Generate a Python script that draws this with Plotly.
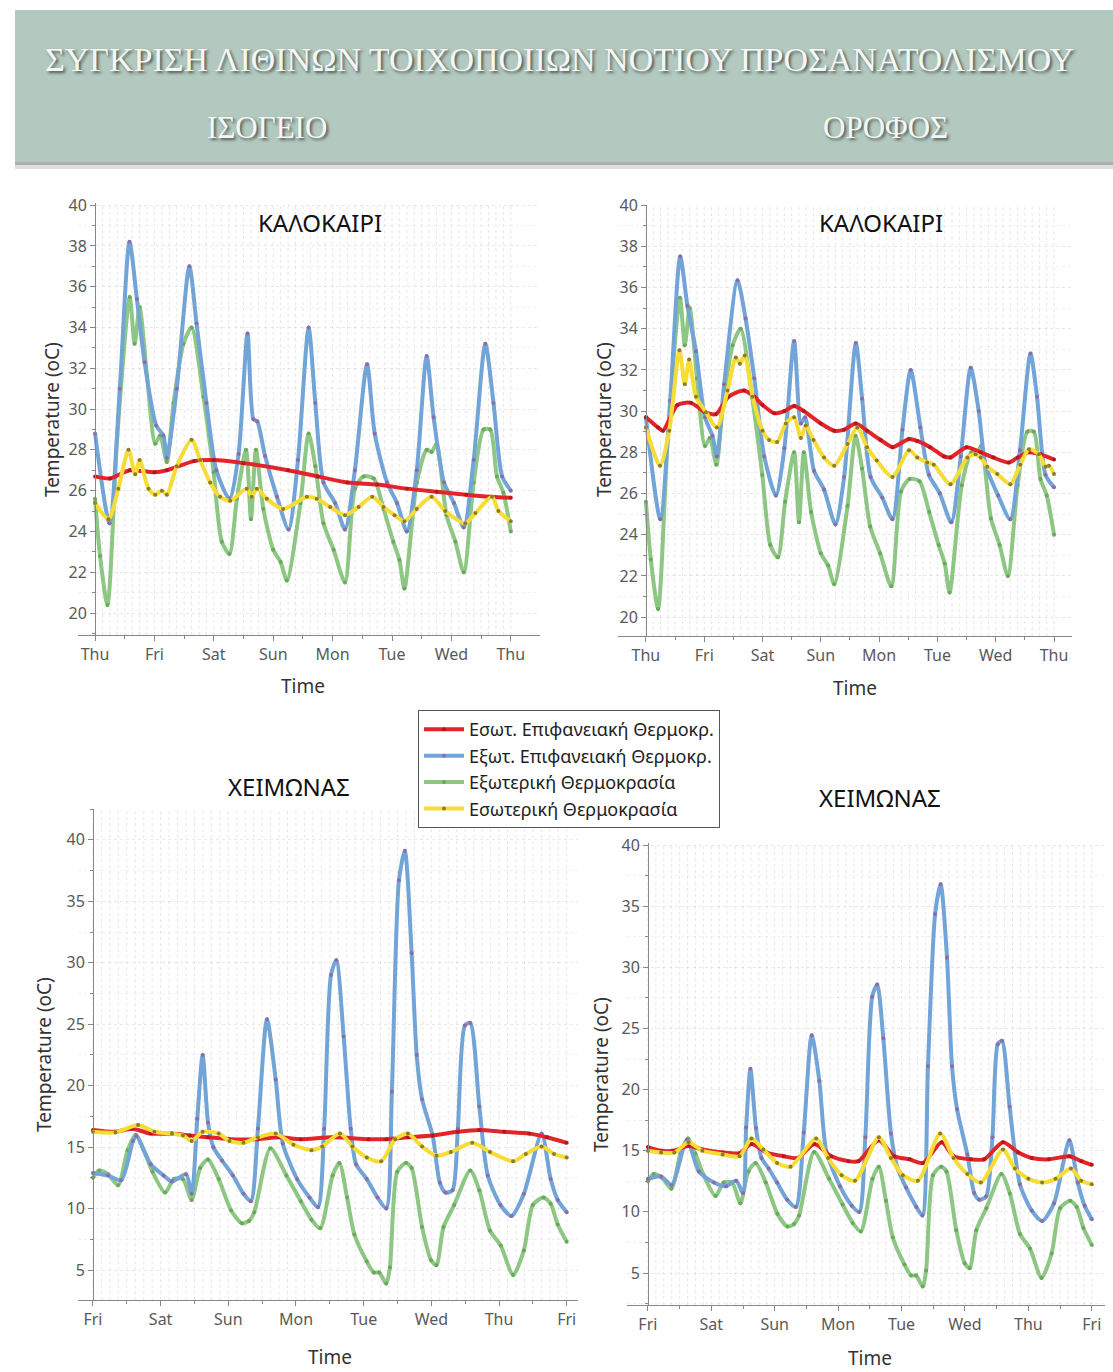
import plotly.graph_objects as go

W, H = 1113, 1372

DAYS_SUMMER = ["Thu", "Fri", "Sat", "Sun", "Mon", "Tue", "Wed", "Thu"]
DAYS_WINTER = ["Fri", "Sat", "Sun", "Mon", "Tue", "Wed", "Thu", "Fri"]
DAY_HOURS = [0, 24, 48, 72, 96, 120, 144, 168]

NAMES = ["Εσωτ. Επιφανειακή Θερμοκρ.", "Εξωτ. Επιφανειακή Θερμοκρ.",
         "Εξωτερική Θερμοκρασία", "Εσωτερική Θερμοκρασία"]

# ---------------- SUMMER ----------------
# outdoor air temperature (same for both floors)
S_OUT_T = [0, 2, 5, 9, 14, 16, 18, 21, 24.3, 26.3, 29, 31.7, 35.7, 39, 43.8, 47.9, 51.2, 54.3, 57.3, 61,
           63, 65, 68, 72, 75, 77.5, 83, 86.3, 89, 92.3, 96.4, 101, 105, 108.5, 112.6, 116.6, 120.5, 123, 125, 130,
           134, 136, 138, 142, 145.6, 149, 153, 157, 159.7, 162.4, 165, 168]
S_OUT_V = [25.6, 22.8, 20.4, 28.7, 35.5, 33.2, 35.0, 31.6, 28.3, 28.7, 27.4, 30.3, 33.2, 34.0, 30.6, 26.9, 23.5, 22.9, 25.6, 28.0,
           24.6, 28.0, 25.1, 23.1, 22.5, 21.6, 25.4, 28.8, 27.2, 24.4, 23.1, 21.5, 26.1, 26.7, 26.6, 25.1, 23.5, 22.6, 21.2, 26.4,
           28.0, 27.9, 28.3, 24.8, 23.5, 22.0, 26.4, 29.0, 29.0, 26.7, 25.9, 24.0]

# ground floor
S_GF_EXTSURF_T = [0, 5.8, 10, 13.9, 16.9, 20, 24.7, 27.6, 29, 33, 38.1, 41, 45, 49, 54.3, 58, 61.6, 64, 65.5, 68.7,
                  73.5, 78.2, 82, 86.3, 89, 92.3, 97, 101, 105, 109.9, 113, 118, 122, 126, 130, 134, 136.8, 141, 145, 149,
                  153, 157.7, 161, 164.5, 168]
S_GF_EXTSURF_V = [28.8, 24.4, 31.0, 38.2, 35.4, 32.3, 29.2, 28.7, 27.6, 31.0, 37.0, 34.2, 30.3, 27.0, 25.6, 27.8, 33.7, 29.5, 29.4, 27.7,
                  25.7, 24.1, 27.5, 34.0, 30.3, 26.4, 25.4, 24.1, 27.0, 32.2, 28.8, 26.4, 25.4, 24.0, 27.0, 32.6, 29.6, 26.4, 25.4, 24.2,
                  27.5, 33.2, 30.3, 26.7, 26.0]
S_GF_INTSURF_T = [0, 6, 14, 24, 29, 40, 48, 60, 78, 90, 102, 114, 126, 138, 150, 160, 168]
S_GF_INTSURF_V = [26.7, 26.6, 27.0, 26.9, 27.0, 27.45, 27.5, 27.35, 27.0, 26.7, 26.4, 26.3, 26.1, 25.95, 25.8, 25.7, 25.65]
S_GF_IN_T = [0, 5.4, 9.4, 13.5, 16.2, 18, 21.6, 24.3, 27, 29, 33, 39, 42.5, 46.5, 50.5, 54.6, 61.3, 63.3, 65.4, 69.4,
             76, 85.6, 89.6, 95, 101, 106.5, 112, 116.6, 121, 125, 130, 136, 141.5, 149.6, 153.7, 160.4, 163, 168]
S_GF_IN_V = [25.4, 24.6, 26.1, 28.0, 26.8, 27.5, 26.1, 25.8, 26.0, 25.8, 27.2, 28.5, 27.5, 26.4, 25.7, 25.5, 26.1, 25.7, 26.1, 25.6,
             25.1, 25.7, 25.6, 25.2, 24.8, 25.2, 25.7, 25.2, 24.8, 24.5, 25.1, 25.7, 25.0, 24.4, 24.9, 25.7, 25.0, 24.5]

# upper floor
S_UF_EXTSURF_T = [0, 5.9, 10, 14.1, 17.1, 20.6, 24.3, 27.4, 29.2, 32.2, 37.7, 41, 44.6, 48.7, 53.5, 57, 61, 63.8, 65.5, 69.2,
                  73.3, 78, 81.6, 86.4, 89, 92.5, 97.3, 101.5, 105.6, 109, 113, 116.5, 121, 125.7, 129.6, 133.7, 137, 139.8, 145, 150,
                  154, 158.3, 161, 164.5, 168]
S_UF_EXTSURF_V = [29.7, 24.75, 30.5, 37.5, 35.1, 32.9, 29.7, 28.8, 27.8, 31.3, 36.35, 34.5, 31.6, 27.8, 25.9, 28.2, 33.4, 29.4, 29.7, 27.1,
                  26.2, 24.5, 26.8, 33.3, 30.6, 26.8, 25.8, 24.75, 29.1, 32.0, 29.2, 26.9, 26.0, 24.6, 27.8, 32.1, 30.0, 27.4, 25.9, 24.75,
                  28.1, 32.8, 30.7, 26.9, 26.3]
S_UF_INTSURF_T = [0, 5, 7, 13, 18.5, 24.3, 28.8, 34, 40.4, 44.6, 48, 52.8, 57, 61, 65, 72, 77.5, 81.6, 86.4, 91,
                  96.6, 101.5, 108.3, 111.7, 117, 122.7, 125.4, 132, 137.8, 143, 149.4, 153, 157.7, 162.5, 168]
S_UF_INTSURF_V = [29.7, 29.2, 29.05, 30.3, 30.4, 29.95, 29.85, 30.7, 31.0, 30.7, 30.3, 29.9, 30.0, 30.25, 30.0, 29.4, 29.05, 29.1, 29.4, 29.05,
                  28.6, 28.25, 28.65, 28.55, 28.25, 27.8, 27.75, 28.25, 28.0, 27.75, 27.5, 27.75, 28.0, 27.9, 27.65]
S_UF_IN_T = [0, 5.8, 9.6, 13.8, 16, 17.8, 20.6, 24.7, 29.2, 33.6, 37, 38.7, 40.7, 43.9, 48, 50.7, 54, 57.6, 61, 63.8,
             65.8, 69, 73.3, 77.5, 83, 87, 91, 95, 101.5, 108.3, 111.7, 115.8, 118.5, 125.4, 132.3, 135.7, 137.8, 140.5, 144.6, 150,
             154.1, 157.7, 161.8, 164.5, 165.9, 168]
S_UF_IN_V = [29.2, 27.35, 29.05, 32.95, 31.3, 32.5, 30.7, 29.95, 29.2, 31.0, 32.6, 32.3, 32.7, 30.7, 29.05, 28.6, 28.5, 29.4, 29.7, 28.7,
             29.3, 28.6, 27.75, 27.35, 28.4, 29.2, 28.25, 27.6, 26.8, 28.1, 27.75, 27.5, 27.4, 26.45, 27.75, 27.9, 27.75, 27.3, 26.95, 26.45,
             27.4, 28.15, 27.9, 27.3, 27.35, 26.95]

# ---------------- WINTER ----------------
W_OUT_T = [0, 2.2, 5.3, 8.9, 12.3, 15.2, 18, 21.1, 25.6, 28.7, 31.9, 35, 38, 40.8, 44.6, 49, 52.8, 55.3, 57.2, 62.9,
           68.6, 73.7, 77.5, 80.6, 85, 87.4, 90.1, 92.7, 97.1, 99.6, 101.5, 104, 105.3, 107.9, 111, 113, 116.7, 119.9, 121.8, 124.3,
           128.1, 133.8, 137, 140.8, 144.6, 149, 152.8, 156, 159.8, 162.3, 164.8, 168]
W_OUT_V = [12.5, 13.1, 12.8, 11.9, 14.75, 16.0, 14.75, 13.0, 11.3, 12.4, 12.4, 10.7, 13.3, 14.0, 12.4, 9.85, 8.8, 9.0, 9.7, 14.9,
           12.7, 10.6, 9.1, 8.4, 12.7, 13.7, 10.9, 7.9, 5.7, 4.8, 4.8, 3.9, 5.2, 13.0, 13.7, 13.3, 8.5, 5.8, 5.4, 8.5,
           10.3, 13.1, 11.5, 8.2, 7.0, 4.6, 6.6, 10.3, 10.9, 10.4, 8.7, 7.3]

W_GF_EXTSURF_T = [0, 5.3, 10, 14.2, 15.4, 20.5, 25, 28, 33, 35, 37, 38.9, 40.8, 42.7, 45.8, 49.6, 53.4, 56, 58.5, 61.7,
                  64.8, 67.3, 72.4, 76.8, 79.8, 82, 84.4, 86.3, 88.9, 91.4, 93.3, 97.1, 100.9, 104, 106, 108.5, 110.6, 113, 114.8, 116.7,
                  120.5, 123, 125, 127.5, 129.4, 131.9, 133.8, 137, 140, 144.5, 148.4, 152.8, 159.1, 162.3, 164.8, 168]
W_GF_EXTSURF_V = [12.9, 12.7, 12.3, 15.5, 15.9, 13.6, 12.7, 12.2, 12.8, 11.2, 17.3, 22.5, 17.0, 15.0, 13.9, 12.7, 11.2, 10.6, 16.5, 25.4,
                  20.5, 15.3, 12.4, 10.9, 10.1, 16.5, 29.0, 30.2, 24.0, 16.5, 13.6, 12.4, 10.9, 10.0, 19.5, 36.7, 39.1, 30.8, 22.5, 18.9,
                  15.9, 12.1, 11.3, 11.5, 16.5, 24.9, 25.1, 18.3, 12.7, 10.3, 9.4, 11.2, 16.1, 12.4, 10.7, 9.7]
W_GF_INTSURF_T = [0, 8, 14, 20.5, 28, 34.4, 40.8, 48.4, 58.5, 66, 73.7, 85, 97.7, 104, 111.7, 120.5, 129.4, 137, 145.8, 154.7, 161, 168]
W_GF_INTSURF_V = [16.4, 16.25, 16.5, 16.1, 16.1, 15.95, 15.8, 15.65, 15.65, 15.8, 15.65, 15.8, 15.65, 15.65, 15.8, 15.95, 16.25, 16.4, 16.25, 16.1, 15.8, 15.35]
W_GF_IN_T = [0, 8, 16, 21.8, 28, 31.9, 35, 38.9, 44.6, 48.4, 53.4, 58.5, 64.8, 71.1, 77.5, 81.3, 87.6, 92, 97.1, 102.2,
             107.2, 111.7, 116.7, 121.8, 126.9, 134.5, 140.8, 149, 153.5, 159.1, 163.5, 168]
W_GF_IN_V = [16.25, 16.2, 16.8, 16.25, 16.1, 15.95, 15.5, 16.25, 16.1, 15.5, 15.35, 15.8, 16.1, 15.2, 14.75, 15.05, 16.1, 15.05, 14.15, 13.85,
             15.65, 16.1, 15.05, 14.3, 14.6, 15.35, 14.6, 13.85, 14.45, 15.05, 14.45, 14.15]

W_UF_EXTSURF_T = [0, 5, 9, 14.8, 19.3, 25, 29.6, 33.4, 36, 37.2, 38.8, 40.9, 43, 45.7, 48.9, 52.7, 56, 59, 62, 64.9,
                  67.5, 72.7, 77.2, 80, 82.3, 84.9, 86.8, 89.1, 92, 94.5, 97.7, 101.6, 103.9, 106, 108.7, 110.8, 113.2, 115.1, 117, 120.9,
                  123.5, 125.4, 128, 130.4, 132.4, 134, 136.9, 140.8, 145.3, 149.2, 153.7, 159.5, 162.7, 165.3, 168]
W_UF_EXTSURF_V = [12.7, 12.9, 12.2, 15.9, 13.3, 12.4, 12.1, 12.55, 11.55, 16.9, 21.7, 16.85, 14.4, 13.55, 12.4, 11.0, 10.4, 16.5, 24.45, 20.7,
                  15.0, 12.1, 10.5, 10.0, 16.1, 27.6, 28.6, 24.2, 16.4, 13.55, 12.0, 10.4, 9.7, 21.9, 34.35, 36.8, 30.8, 21.9, 18.4, 14.7,
                  11.55, 11.0, 11.25, 16.1, 23.7, 24.0, 18.6, 12.25, 10.1, 9.25, 10.7, 15.85, 12.4, 10.5, 9.4]
W_UF_INTSURF_T = [0, 5, 9.6, 15.4, 20.6, 28.3, 34.7, 39.2, 45, 51.4, 56.6, 63, 69.4, 75.9, 79.7, 87.4, 93.2, 99, 104.2, 111.2,
                  115.7, 122.2, 127.3, 134.4, 140.2, 145.3, 151.8, 159.5, 164, 168]
W_UF_INTSURF_V = [15.3, 15.0, 15.0, 15.4, 15.1, 14.85, 14.8, 15.55, 14.85, 14.55, 14.4, 15.55, 14.55, 14.15, 14.15, 15.85, 14.55, 14.3, 14.0, 15.7,
                  14.55, 14.3, 14.3, 15.7, 14.85, 14.4, 14.3, 14.55, 14.15, 13.85]
W_UF_IN_T = [0, 5, 10, 15.4, 20.6, 28.3, 34.7, 39.2, 43.7, 48.9, 54, 63.7, 68.2, 73.3, 78.4, 87.4, 92, 96.5, 102.2, 110.6,
             115.7, 120.9, 126, 134.4, 138.9, 144, 149.2, 154.3, 160.1, 164, 168]
W_UF_IN_V = [15.0, 14.85, 14.85, 15.7, 15.0, 14.7, 14.55, 16.0, 15.1, 14.0, 13.7, 16.0, 14.4, 13.0, 12.55, 16.1, 14.4, 13.0, 12.55, 16.4,
             14.4, 13.1, 12.4, 15.1, 13.55, 12.7, 12.4, 12.7, 13.55, 12.55, 12.25]

# ---------------- styling ----------------
LINE_COLORS = {"red": "#e3242b", "blue": "#72a4d8", "green": "#8ec683", "yellow": "#f6dc35"}
MARK_COLORS = {"red": "#b3181c", "blue": "#8a6fa6", "green": "#6aa95c", "yellow": "#8c7d2e"}
TICKFONT = dict(family="Noto Sans, Open Sans, sans-serif", size=16, color="#595959")
AXFONT = dict(family="Noto Sans, Open Sans, sans-serif", size=19, color="#333333")


def px_x(x):
    return x / W


def px_y(y):
    # vertical pixel position (from top) -> paper fraction, with a small
    # correction so that the rendered page lines up with the reference
    y_adj = 1.00806 * y - 11
    return 1 - y_adj / H


PANELS = [
    dict(l=78, r=540, t=203, b=635, ax=95, xr=[-6.9, 179.8], yr=[18.92, 40.1], days=DAYS_SUMMER, dt=2, mn=1),
    dict(l=618, r=1072, t=205, b=636, ax=646, xr=[-11.5, 175.4], yr=[19.08, 40.0], days=DAYS_SUMMER, dt=2, mn=1),
    dict(l=78, r=578, t=809, b=1300, ax=93, xr=[-5.3, 172.0], yr=[2.56, 42.5], days=DAYS_WINTER, dt=5, mn=2.5),
    dict(l=627, r=1105, t=843, b=1305, ax=648, xr=[-7.9, 173.0], yr=[2.38, 40.16], days=DAYS_WINTER, dt=5, mn=2.5),
]

SERIES = [
    [(S_OUT_T, S_OUT_V), (S_GF_EXTSURF_T, S_GF_EXTSURF_V), (S_GF_INTSURF_T, S_GF_INTSURF_V), (S_GF_IN_T, S_GF_IN_V)],
    [(S_OUT_T, S_OUT_V), (S_UF_EXTSURF_T, S_UF_EXTSURF_V), (S_UF_INTSURF_T, S_UF_INTSURF_V), (S_UF_IN_T, S_UF_IN_V)],
    [(W_OUT_T, W_OUT_V), (W_GF_EXTSURF_T, W_GF_EXTSURF_V), (W_GF_INTSURF_T, W_GF_INTSURF_V), (W_GF_IN_T, W_GF_IN_V)],
    [(W_OUT_T, W_OUT_V), (W_UF_EXTSURF_T, W_UF_EXTSURF_V), (W_UF_INTSURF_T, W_UF_INTSURF_V), (W_UF_IN_T, W_UF_IN_V)],
]
ORDER = [("green", NAMES[2], 3), ("blue", NAMES[1], 2), ("red", NAMES[0], 1), ("yellow", NAMES[3], 4)]

fig = go.Figure()
layout = {}
shapes = []

for i, (p, ser) in enumerate(zip(PANELS, SERIES)):
    n = "" if i == 0 else str(i + 1)
    xa, ya = "x" + n, "y" + n
    for (t, v), (ckey, name, rank) in zip(ser, ORDER):
        fig.add_trace(go.Scatter(
            x=t, y=v, xaxis=xa, yaxis=ya, name=name, mode="lines+markers",
            line=dict(color=LINE_COLORS[ckey], width=4, shape="spline", smoothing=0.7),
            marker=dict(size=4, color=MARK_COLORS[ckey]),
            showlegend=(i == 0), legendrank=rank, hoverinfo="skip"))
    layout["xaxis" + n] = dict(
        domain=[px_x(p["l"]), px_x(p["r"])], anchor=ya, range=p["xr"],
        tickvals=DAY_HOURS, ticktext=p["days"], ticks="outside", ticklen=5,
        tickcolor="#888", showline=True, linecolor="#888", linewidth=1,
        showgrid=False, zeroline=False, tickfont=TICKFONT,
        minor=dict(dtick=12, tick0=0, ticks="outside", ticklen=3, tickcolor="#888", showgrid=False))
    layout["yaxis" + n] = dict(
        domain=[px_y(p["b"]), px_y(p["t"])], anchor="free", position=px_x(p["ax"]),
        range=p["yr"], dtick=p["dt"], tick0=0, ticks="outside", ticklen=5, tickcolor="#888",
        showline=True, linecolor="#888", linewidth=1, zeroline=False, tickfont=TICKFONT,
        showgrid=True, gridcolor="rgba(190,190,190,0.35)", griddash="dot", gridwidth=1,
        minor=dict(dtick=p["mn"], ticks="outside", ticklen=3, tickcolor="#888",
                   showgrid=True, gridcolor="rgba(200,200,200,0.25)", griddash="dot"))
    for h in range(0, 169, 3):
        shapes.append(dict(type="line", xref=xa, yref=ya + " domain", x0=h, x1=h, y0=0, y1=1,
                           line=dict(color="rgba(185,185,185,0.35)", width=1, dash="dot"), layer="below"))

# header banner with soft shadow
shapes.append(dict(type="rect", xref="paper", yref="paper", x0=px_x(15), x1=1.0, y0=px_y(169), y1=px_y(162),
                   fillcolor="rgba(120,125,122,0.25)", line=dict(width=0), layer="below"))
shapes.append(dict(type="rect", xref="paper", yref="paper", x0=px_x(15), x1=1.0, y0=px_y(165), y1=px_y(160),
                   fillcolor="rgba(110,115,112,0.45)", line=dict(width=0), layer="below"))
shapes.append(dict(type="rect", xref="paper", yref="paper", x0=px_x(15), x1=1.0, y0=px_y(161), y1=px_y(10),
                   fillcolor="#b3c8bf", line=dict(width=0), layer="below"))

HEAD_FONT = dict(family="Liberation Serif, DejaVu Serif, serif", color="#f4f7f5",
                 shadow="2px 2px 3px rgba(40,50,45,0.75)")
annotations = [
    dict(text="ΣΥΓΚΡΙΣΗ ΛΙΘΙΝΩΝ ΤΟΙΧΟΠΟΙΙΩΝ ΝΟΤΙΟΥ ΠΡΟΣΑΝΑΤΟΛΙΣΜΟΥ", x=px_x(559), y=px_y(59),
         font=dict(size=34, **HEAD_FONT)),
    dict(text="ΙΣΟΓΕΙΟ", x=px_x(267), y=px_y(127), font=dict(size=31, **HEAD_FONT)),
    dict(text="ΟΡΟΦΟΣ", x=px_x(885), y=px_y(127), font=dict(size=31, **HEAD_FONT)),
]
TITLE_FONT = dict(family="Noto Sans, Open Sans, sans-serif", size=24, color="#111111")
for txt, x, y in [("ΚΑΛΟΚΑΙΡΙ", 320, 222), ("ΚΑΛΟΚΑΙΡΙ", 881, 222),
                  ("ΧΕΙΜΩΝΑΣ", 289, 786), ("ΧΕΙΜΩΝΑΣ", 880, 797)]:
    annotations.append(dict(text=txt, x=px_x(x), y=px_y(y), font=TITLE_FONT))
for x, y in [(52, 420), (604, 420), (44, 1055), (601, 1075)]:
    annotations.append(dict(text="Temperature (oC)", x=px_x(x), y=px_y(y), textangle=-90, font=AXFONT))
for x, y in [(303, 686), (855, 688), (330, 1357), (870, 1358)]:
    annotations.append(dict(text="Time", x=px_x(x), y=px_y(y), font=AXFONT))
for a in annotations:
    a.update(xref="paper", yref="paper", showarrow=False, xanchor="center", yanchor="middle")

fig.update_layout(
    width=W, height=H, margin=dict(l=0, r=0, t=0, b=0),
    paper_bgcolor="white", plot_bgcolor="rgba(0,0,0,0)",
    shapes=shapes, annotations=annotations,
    legend=dict(x=px_x(418), y=px_y(710), xanchor="left", yanchor="top",
                bgcolor="white", bordercolor="#555555", borderwidth=1,
                font=dict(family="Noto Sans, Open Sans, sans-serif", size=18, color="#222222"),
                itemwidth=40, tracegroupgap=0),
    **layout)

fig.write_html("out.html")
